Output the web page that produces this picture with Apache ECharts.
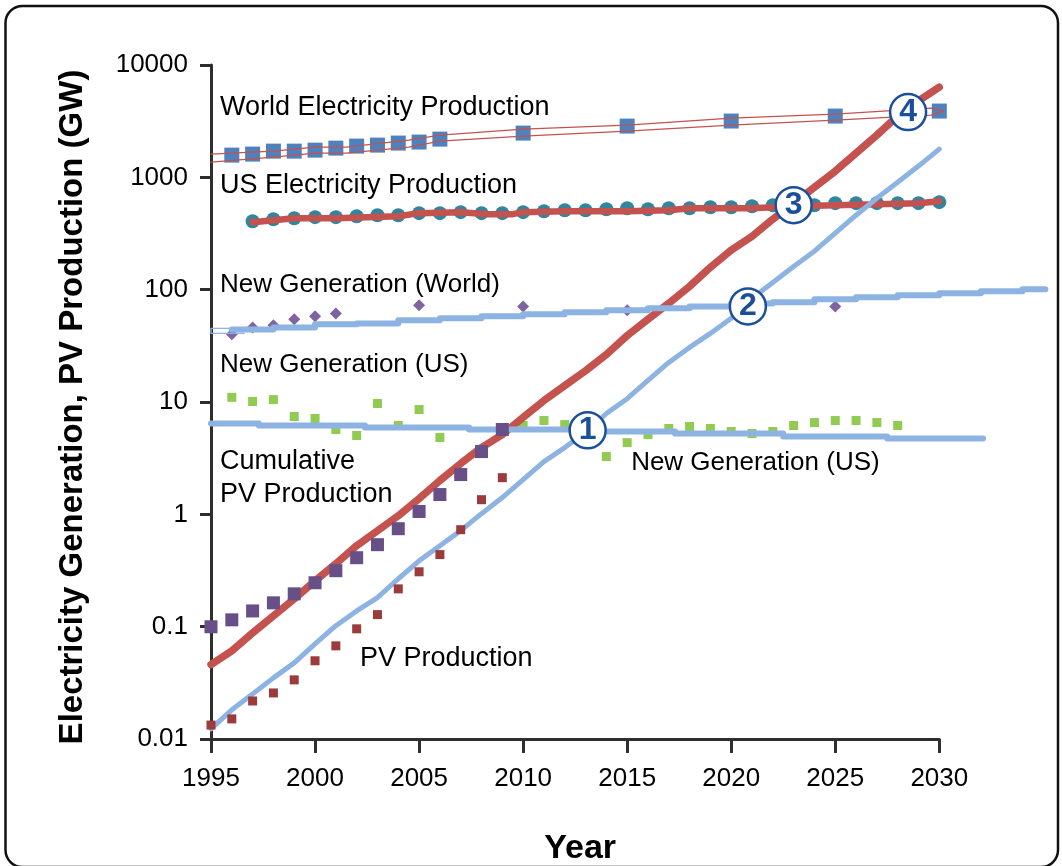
<!DOCTYPE html>
<html>
<head>
<meta charset="utf-8">
<title>PV Production</title>
<script src="https://cdn.jsdelivr.net/npm/echarts@6/dist/echarts.min.js"></script>
<style>
html, body { margin: 0; padding: 0; background: #fff; }
#chart { width: 1062px; height: 866px; }
</style>
</head>
<body>
<div id="chart"></div>
<script>
// years of the marker series
var worldElecYears = [1996, 1997, 1998, 1999, 2000, 2001, 2002, 2003, 2004, 2005, 2006, 2010, 2015, 2020, 2025, 2030];
var worldElecValues = [1577, 1610, 1711, 1711, 1746, 1820, 1897, 1936, 2018, 2060, 2188, 2477, 2859, 3170, 3510, 3890];

var worldBandYears = [1995, 1998, 2000, 2001.5, 2004.5, 2006, 2010, 2015, 2020, 2025, 2029.6];
var worldBandUpper = [1610, 1711, 1858, 1858, 2143, 2377, 2687, 2917, 3367, 3656, 4137];
var worldBandLower = [1365, 1514, 1642, 1642, 1858, 2100, 2329, 2582, 2917, 3236, 3581];
var worldBandTip = [2030.2, 3890];

var usElecYears = [1997, 1998, 1999, 2000, 2001, 2002, 2003, 2004, 2005, 2006, 2007, 2008, 2009, 2010, 2011, 2012, 2013,
    2014, 2015, 2016, 2017, 2018, 2019, 2020, 2021, 2022, 2023, 2024, 2025, 2026, 2027, 2028, 2029, 2030];
var usElecValues = [406, 424, 432, 442, 442, 451, 460, 460, 480, 480, 490, 480, 480, 490, 499, 509, 509,
    520, 531, 520, 531, 531, 542, 542, 553, 565, 565, 565, 589, 589, 589, 589, 589, 601];

var usLineYears = [1997, 1999, 2001, 2004, 2005, 2007, 2008.3, 2009.5, 2010, 2012, 2015, 2017, 2018, 2021, 2023, 2025, 2029, 2030];
var usLineValues = [398, 432, 432, 451, 480, 490, 470, 470, 490, 499, 499, 509, 531, 531, 553, 565, 589, 613];

var newWorldYears = [1996, 1997, 1998, 1999, 2000, 2001, 2005, 2010, 2015, 2025];
var newWorldValues = [40, 46.1, 48.1, 54.4, 57.9, 61.5, 72.5, 71, 65.5, 71];

// stepped lines, value holds until the next year
var newWorldStepYears = [1996, 1998, 2000, 2002, 2004, 2006, 2008, 2010, 2012, 2014, 2016, 2018, 2020, 2022, 2024, 2026, 2028, 2030, 2032, 2034, 2035.1];
var newWorldStepValues = [44.3, 46.1, 49.1, 50.1, 53.3, 55.6, 57.9, 60.3, 62.8, 65.5, 68.2, 71, 75.5, 77.1, 82, 85.5, 89, 92.7, 96.6, 100.7, 100.7];
var newWorldStartYears = [1996.6, 1995, 1995, 1996.6];
var newWorldStartValues = [45.2, 45.2, 40.8, 40.8];

var newUsStepYears = [1995, 1997.3, 2002.4, 2007.4, 2012.4, 2017.3, 2022.5, 2027.5, 2032.1];
var newUsStepValues = [6.43, 6.18, 5.93, 5.69, 5.46, 5.24, 4.92, 4.73, 4.73];

var newUsYears = [1996, 1997, 1998, 1999, 2000, 2001, 2002, 2003, 2004, 2005, 2006, 2010, 2011, 2012, 2014, 2015,
    2016, 2017, 2018, 2019, 2020, 2021, 2022, 2023, 2024, 2025, 2026, 2027, 2028];
var newUsValues = [11, 10.1, 10.5, 7.43, 7.13, 5.69, 5.03, 9.7, 6.18, 8.57, 4.83, 6.18, 6.84, 6.3, 3.27, 4.35,
    5.13, 5.81, 6.05, 5.81, 5.46, 5.24, 5.46, 6.18, 6.56, 6.84, 6.84, 6.56, 6.18];

var trendYears = [1995, 1996, 1997, 1998, 1999, 2000, 2001, 2002, 2003, 2004, 2005, 2006, 2007, 2008, 2009, 2010, 2011, 2012,
    2013, 2014, 2015, 2016, 2017, 2018, 2019, 2020, 2021, 2022, 2023, 2024, 2025, 2026, 2027, 2028, 2029, 2030];
var cumulativeLine = [0.046, 0.061, 0.088, 0.125, 0.177, 0.256, 0.363, 0.526, 0.714, 0.97, 1.38, 2, 2.83, 3.93, 5.13, 7.3, 10.3, 14,
    19, 26.5, 39, 54.5, 75.6, 107, 158, 225, 298, 424, 589, 817, 1135, 1640, 2376, 3508, 4786, 6340];
var productionLine = [0.0123, 0.0182, 0.0252, 0.035, 0.0476, 0.0703, 0.102, 0.138, 0.181, 0.267, 0.386, 0.526, 0.716, 1.014, 1.41, 2.04, 2.95, 3.93,
    5.35, 7.9, 10.7, 15.6, 22.5, 30.6, 40.8, 55.6, 83.8, 116, 161, 220, 318, 460, 652, 906, 1259, 1782];

var pvYears = [1995, 1996, 1997, 1998, 1999, 2000, 2001, 2002, 2003, 2004, 2005, 2006, 2007, 2008, 2009];
var cumulativeValues = [0.0998, 0.115, 0.138, 0.163, 0.196, 0.246, 0.315, 0.411, 0.537, 0.745, 1.06, 1.5, 2.26, 3.62, 5.69];
var productionValues = [0.0133, 0.0151, 0.0218, 0.0257, 0.0336, 0.0497, 0.0675, 0.0957, 0.128, 0.217, 0.308, 0.438, 0.73, 1.35, 2.12];

var calloutNames = ['1', '2', '3', '4'];
var calloutYears = [2013.1, 2020.8, 2023, 2028.5];
var calloutValues = [5.6, 71, 565, 3811];

var noteNames = ['World Electricity Production', 'US Electricity Production', 'New Generation (World)', 'New Generation (US)',
    'Cumulative\nPV Production', 'PV Production', 'New Generation (US)'];
var noteYears = [1995.43, 1995.43, 1995.43, 1995.43, 1995.43, 2002.16, 2015.19];
var noteValues = [4395, 887, 114, 22.5, 2.21, 0.0538, 3.01];

var FONT = '"Liberation Sans", Arial, sans-serif';
var RED = '#c4524f';
var LIGHT_BLUE = '#8db3e2';
var AXIS_COLOR = '#2f2d2e';
var WIDE = 1; // index of the second grid, its x axis runs past 2030 so long lines are not clipped

function pairs(xs, ys) {
    var out = [];
    for (var i = 0; i < xs.length; i++) {
        out.push([xs[i], ys[i]]);
    }
    return out;
}

// one flat run per step with a gap between, the round caps close the small rise
function stepPairs(xs, ys) {
    var out = [];
    for (var i = 0; i < xs.length - 1; i++) {
        out.push([xs[i], ys[i]]);
        out.push([xs[i + 1], ys[i]]);
        out.push([xs[i + 1], null]);
    }
    return out;
}

function lineSeries(name, data, color, width, axisIndex) {
    return {
        name: name,
        type: 'line',
        z: 3,
        data: data,
        xAxisIndex: axisIndex || 0,
        yAxisIndex: axisIndex || 0,
        showSymbol: false,
        symbol: 'none',
        clip: false,
        silent: true,
        lineStyle: {color: color, width: width, cap: 'round', join: 'round'}
    };
}

function markerSeries(name, data, color, symbol, size, z) {
    return {
        name: name,
        type: 'scatter',
        z: z,
        data: data,
        symbol: symbol,
        symbolSize: size,
        clip: false,
        silent: true,
        itemStyle: {color: color, opacity: 1}
    };
}

// band is drawn as one closed thin loop, out along the top and back along the bottom
var worldBand = pairs(worldBandYears, worldBandUpper)
    .concat([worldBandTip])
    .concat(pairs(worldBandYears, worldBandLower).reverse());

var calloutData = [];
for (var i = 0; i < calloutNames.length; i++) {
    calloutData.push({name: calloutNames[i], value: [calloutYears[i], calloutValues[i]]});
}
var noteData = [];
for (var j = 0; j < noteNames.length; j++) {
    noteData.push({
        name: noteNames[j],
        value: [noteYears[j], noteValues[j]],
        label: {fontSize: noteNames[j].indexOf('New Generation') === 0 ? 26 : 27}
    });
}

var option = {
    animation: false,
    backgroundColor: '#fff',
    textStyle: {fontFamily: FONT},
    grid: [
        {left: 211, right: 122.7, top: 65, bottom: 127, outerBoundsMode: 'none'},
        {left: 211, right: 8.3, top: 65, bottom: 127, outerBoundsMode: 'none'}
    ],
    graphic: [{
        type: 'rect',
        z: -1,
        shape: {x: 5.5, y: 6, width: 1052.5, height: 861, r: 17},
        style: {fill: '#fff', stroke: '#111', lineWidth: 2.5}
    }],
    xAxis: [{
        type: 'value',
        gridIndex: 0,
        min: 1995,
        max: 2030,
        interval: 5,
        name: 'Year',
        nameLocation: 'middle',
        nameGap: 93,
        nameTextStyle: {fontFamily: FONT, fontSize: 34, fontWeight: 'bold', color: '#000', padding: [0, 0, 0, 10]},
        axisLine: {onZero: false, lineStyle: {color: AXIS_COLOR, width: 3}},
        axisTick: {length: 14, lineStyle: {color: AXIS_COLOR, width: 3}},
        axisLabel: {fontFamily: FONT, fontSize: 26, color: '#000', margin: 27,
            formatter: function (v) { return String(v); }},
        splitLine: {show: false}
    }, {
        type: 'value',
        gridIndex: WIDE,
        min: 1995,
        max: 2035.5,
        show: false
    }],
    yAxis: [{
        type: 'log',
        gridIndex: 0,
        logBase: 10,
        min: 0.01,
        max: 10000,
        name: 'Electricity Generation, PV Production (GW)',
        nameLocation: 'middle',
        nameGap: 122,
        nameTextStyle: {fontFamily: FONT, fontSize: 33, fontWeight: 'bold', color: '#000', padding: [0, 10, 0, 0]},
        axisLine: {lineStyle: {color: AXIS_COLOR, width: 3}},
        axisTick: {length: 11, lineStyle: {color: AXIS_COLOR, width: 3}},
        axisLabel: {fontFamily: FONT, fontSize: 26, color: '#000', margin: 23,
            formatter: function (v) { return String(v); }},
        minorTick: {show: false},
        splitLine: {show: false}
    }, {
        type: 'log',
        gridIndex: WIDE,
        logBase: 10,
        min: 0.01,
        max: 10000,
        show: false
    }],
    series: [
        markerSeries('New Generation (US)', pairs(newUsYears, newUsValues), '#92cb52', 'rect', 9, 2),
        markerSeries('New Generation (World)', pairs(newWorldYears, newWorldValues), '#8064a2', 'diamond', 12, 2),
        markerSeries('World Electricity Production', pairs(worldElecYears, worldElecValues), '#4f81bd', 'rect', 15, 2),
        markerSeries('US Electricity Production', pairs(usElecYears, usElecValues), '#31859c', 'circle', 14, 2),
        lineSeries('World band', worldBand, RED, 1.3, WIDE),
        lineSeries('US trend', pairs(usLineYears, usLineValues), RED, 6.5),
        lineSeries('Cumulative trend', pairs(trendYears, cumulativeLine), RED, 7.5, WIDE),
        lineSeries('Production trend', pairs(trendYears, productionLine), LIGHT_BLUE, 5, WIDE),
        lineSeries('New World start', pairs(newWorldStartYears, newWorldStartValues), LIGHT_BLUE, 1.3),
        lineSeries('New World step', stepPairs(newWorldStepYears, newWorldStepValues), LIGHT_BLUE, 6, WIDE),
        lineSeries('New US step', stepPairs(newUsStepYears, newUsStepValues), LIGHT_BLUE, 6, WIDE),
        markerSeries('Cumulative PV Production', pairs(pvYears, cumulativeValues), '#674f87', 'rect', 13, 4),
        markerSeries('PV Production', pairs(pvYears, productionValues), '#9c3b3b', 'rect', 9, 4),
        {
            name: 'notes',
            type: 'scatter',
            z: 5,
            data: noteData,
            symbolSize: 0,
            clip: false,
            silent: true,
            itemStyle: {opacity: 1},
            label: {
                show: true,
                position: 'right',
                distance: 0,
                offset: [0, 2],
                fontFamily: FONT,
                fontSize: 27,
                lineHeight: 33,
                color: '#000',
                opacity: 1,
                formatter: '{b}'
            }
        },
        {
            name: 'callouts',
            type: 'scatter',
            z: 6,
            data: calloutData,
            symbol: 'circle',
            symbolSize: 36,
            clip: false,
            silent: true,
            itemStyle: {color: '#fff', opacity: 1, borderColor: '#1b4f9c', borderWidth: 2.5},
            label: {
                show: true,
                position: 'inside',
                fontFamily: FONT,
                fontSize: 32,
                fontWeight: 'bold',
                color: '#1b4f9c',
                opacity: 1,
                formatter: '{b}'
            }
        }
    ]
};

var chart = echarts.init(document.getElementById('chart'), null, {renderer: 'canvas'});
chart.setOption(option);
</script>
</body>
</html>
